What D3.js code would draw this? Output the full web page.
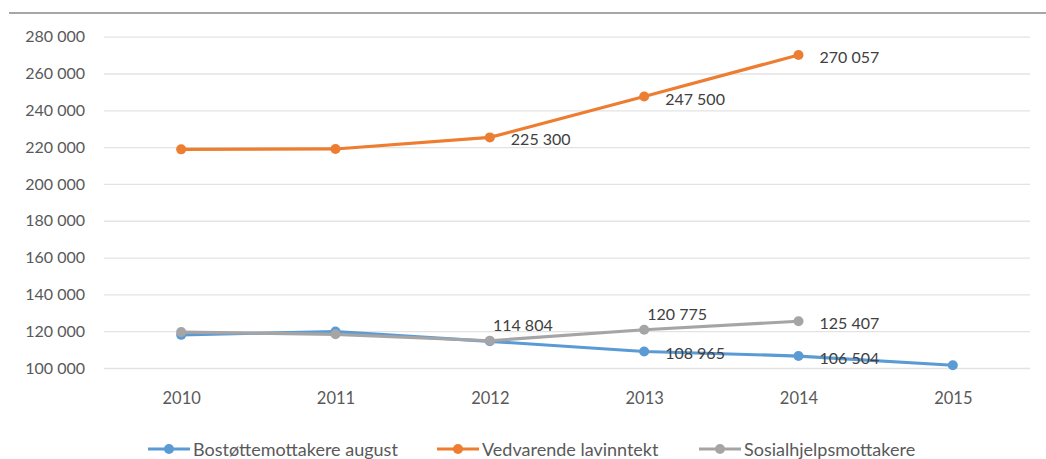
<!DOCTYPE html>
<html><head><meta charset="utf-8">
<script src="https://cdn.jsdelivr.net/npm/d3@7"></script>
<style>body{margin:0;background:#fff}svg{display:block}</style>
</head><body><svg id="c" width="1046" height="459"></svg>
<script>
const years = ["2010","2011","2012","2013","2014","2015"];
const seriesNames = ["Bostøttemottakere august","Vedvarende lavinntekt","Sosialhjelpsmottakere"];
const bostotte = [118000,119800,114500,108965,106504,101500];
const lavinntekt = [218800,219000,225300,247500,270057,null];
const sosialhjelp = [119500,118300,114804,120775,125407,null];
const yTicks = [100000,120000,140000,160000,180000,200000,220000,240000,260000,280000];
const colors = ["#5b9bd5","#ed7d31","#a5a5a5"];
// which points carry a value label, and where
const labelB = [null,null,null,"right","right",null];
const labelL = [null,null,"right","right","right",null];
const labelS = [null,null,"above","above","right",null];

const FONT = "Lato, 'Open Sans', sans-serif";
const svg = d3.select("#c");
const fmt = v => d3.format(",")(v).replace(/,/g," ");
const x = d3.scalePoint().domain(years).range([104,1030]).padding(0.5);
const y = d3.scaleLinear().domain([100000,280000]).range([368,36.7]);

svg.append("line").attr("x1",9).attr("x2",1046).attr("y1",13).attr("y2",13)
  .attr("stroke","#a6a6a6").attr("stroke-width",2);

const yAxis = d3.axisLeft(y).tickValues(yTicks).tickSize(-(1030-104)).tickFormat(fmt);
const gy = svg.append("g").attr("transform","translate(104,0)").call(yAxis);
gy.select(".domain").remove();
gy.selectAll(".tick line").attr("stroke","#e3e3e3").attr("stroke-width",1.3);
gy.selectAll(".tick text").attr("x",-19).attr("fill","#595959")
  .style("font-family",FONT).style("font-size","16px");

const xAxis = d3.axisBottom(x).tickSize(0);
const gx = svg.append("g").attr("transform","translate(0,368)").call(xAxis);
gx.select(".domain").remove();
gx.selectAll(".tick text").attr("dy",0).attr("y",36).attr("fill","#595959")
  .style("font-family",FONT).style("font-size","16.5px");

const data = [bostotte, lavinntekt, sosialhjelp];
const labels = [labelB, labelL, labelS];
const line = d3.line().defined(d=>d.v!=null).x(d=>x(d.k)).y(d=>y(d.v));
data.forEach((arr,i)=>{
  const pts = arr.map((v,j)=>({k:years[j],v:v,l:labels[i][j]}));
  const g = svg.append("g");
  g.append("path").datum(pts).attr("d",line).attr("fill","none")
    .attr("stroke",colors[i]).attr("stroke-width",3.2).attr("stroke-linejoin","round");
  g.selectAll("circle").data(pts.filter(d=>d.v!=null)).join("circle")
    .attr("cx",d=>x(d.k)).attr("cy",d=>y(d.v)).attr("r",5).attr("fill",colors[i]);
  g.selectAll("text").data(pts.filter(d=>d.l)).join("text")
    .attr("x",d=>d.l==="right"? x(d.k)+21 : x(d.k)+33)
    .attr("y",d=>d.l==="right"? y(d.v)+8 : y(d.v)-10)
    .attr("text-anchor",d=>d.l==="right"?"start":"middle")
    .attr("fill","#404040")
    .style("font-family",FONT).style("font-size","16px")
    .text(d=>fmt(d.v));
});

// legend
const legX = [148,437,699];
seriesNames.forEach((n,i)=>{
  const g = svg.append("g").attr("transform",`translate(${legX[i]},449)`);
  g.append("line").attr("x1",0).attr("x2",42).attr("y1",0).attr("y2",0)
    .attr("stroke",colors[i]).attr("stroke-width",3.2);
  g.append("circle").attr("cx",21).attr("cy",0).attr("r",5).attr("fill",colors[i]);
  g.append("text").attr("x",45).attr("y",7).attr("fill","#595959")
    .style("font-family",FONT).style("font-size","18px").text(n);
});
</script></body></html>
